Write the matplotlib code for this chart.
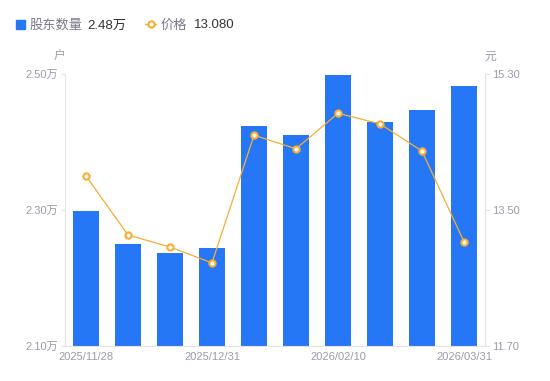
import matplotlib.pyplot as plt
import numpy as np

plt.rcParams['font.family'] = ['Liberation Sans', 'Noto Sans CJK SC', 'DejaVu Sans']

dates = ['2025/11/28', '', '', '2025/12/31', '', '', '2026/02/10', '', '', '2026/03/31']
holders = [2.299, 2.250, 2.237, 2.244, 2.423, 2.410, 2.499, 2.429, 2.447, 2.482]  # 万户
price = [13.95, 13.17, 13.01, 12.80, 14.49, 14.31, 14.78, 14.64, 14.28, 13.08]

BAR_C = '#2677F5'
LINE_C = '#F6AE33'
TXT_C = '#9B9BAB'
AX_C = '#E3E3E8'

fig = plt.figure(figsize=(5.5, 3.81), dpi=100)
ax = fig.add_axes([65 / 550, 35 / 381, 420 / 550, 272 / 381])
ax2 = ax.twinx()

x = np.arange(len(holders))
ax.bar(x, holders, width=0.6, color=BAR_C, zorder=2)
ax.set_xlim(-0.5, len(holders) - 0.5)
ax.set_ylim(2.10, 2.50)
ax.set_yticks([2.10, 2.30, 2.50])
ax.set_yticklabels(['2.10万', '2.30万', '2.50万'])
ax.set_xticks(x)
ax.set_xticklabels(dates)

ax2.plot(x, price, '-o', color=LINE_C, lw=0.9, ms=4.5, mfc='white', mec=LINE_C, mew=1.5, zorder=3)
ax2.set_ylim(11.70, 15.30)
ax2.set_yticks([11.70, 13.50, 15.30])
ax2.set_yticklabels(['11.70', '13.50', '15.30'])

for a in (ax, ax2):
    for s in a.spines.values():
        s.set_visible(False)
    a.tick_params(colors=TXT_C, labelsize=8, length=3, width=0.8)
    a.tick_params(axis='y', color=AX_C)
    a.tick_params(axis='x', length=0, pad=4)
ax.spines['left'].set_visible(True)
ax.spines['left'].set_color(AX_C)
ax.spines['bottom'].set_visible(True)
ax.spines['bottom'].set_color(AX_C)
ax2.spines['right'].set_visible(True)
ax2.spines['right'].set_color(AX_C)
ax.tick_params(axis='y', pad=2)
ax2.tick_params(axis='y', pad=2)

fig.text(59 / 550, 1 - 57 / 381, '户', color=TXT_C, fontsize=8.5, ha='center', va='center')
fig.text(490 / 550, 1 - 57 / 381, '元', color=TXT_C, fontsize=8.5, ha='center', va='center')

# legend row
ly = 1 - 24 / 381
ty = 1 - 25.5 / 381
fig.patches.append(plt.Rectangle((16 / 550, 1 - 29 / 381), 9 / 550, 9 / 381,
                                 transform=fig.transFigure, color=BAR_C))
fig.text(30 / 550, ty, '股东数量', color='#7A7A8A', fontsize=9.5, va='center')
fig.text(87 / 550, ty, '%.2f万' % holders[-1], color='#333333', fontsize=9.5, va='center')
fig.lines.append(plt.Line2D([145 / 550, 156 / 550], [ly, ly], transform=fig.transFigure,
                            color=LINE_C, lw=1))
fig.lines.append(plt.Line2D([150.5 / 550], [ly], transform=fig.transFigure, marker='o',
                            ms=4.5, mfc='white', mec=LINE_C, mew=1.5, ls='none'))
fig.text(161 / 550, ty, '价格', color='#7A7A8A', fontsize=9.5, va='center')
fig.text(194 / 550, ty, '%.3f' % price[-1], color='#333333', fontsize=9.5, va='center')

fig.savefig('out.png', dpi=100)
